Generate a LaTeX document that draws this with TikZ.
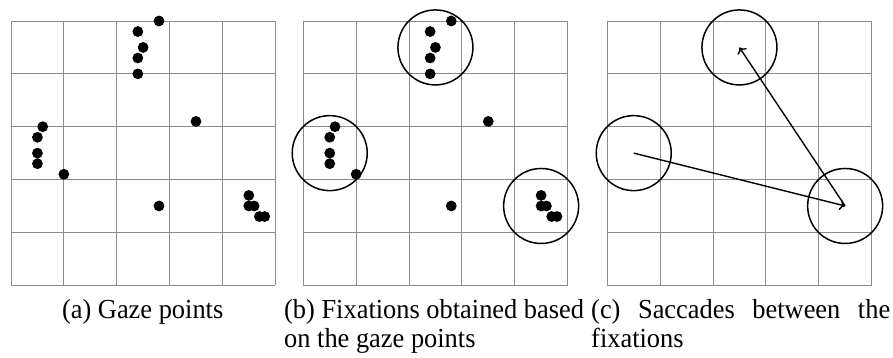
\documentclass[tikz,border=0pt]{standalone}
\usepackage{fontspec}
\setmainfont{Liberation Serif}[FakeStretch=0.96]
\usetikzlibrary{arrows.meta}
\begin{document}
\begin{tikzpicture}[x=1pt,y=-1pt,
  gridline/.style={draw=black!45, line width=0.9pt},
  gazedot/.style={circle, fill=black, inner sep=0pt, minimum size=10.8pt},
  fixring/.style={circle, draw=black, line width=1.5pt, minimum size=75pt, inner sep=0pt},
  saccade/.style={line width=1.4pt, -{To[length=5.5pt,width=11pt]}},
  captext/.style={font=\fontsize{27.5}{30}\selectfont, inner sep=0pt}]
\useasboundingbox (0,0) rectangle (893,358);
\foreach \px/\nm in {11/a, 303.3/b, 607.3/c} {
  \begin{scope}[shift={(\px,21)}, x=52.85pt, y=-52.85pt]
    \foreach \k in {0,...,5} {
      \draw[gridline] (\k,0) -- (\k,5);
      \draw[gridline] (0,\k) -- (5,\k);
    }
  \end{scope}
}
\foreach \px/\nm in {11/a, 303.3/b} {
  \begin{scope}[shift={(\px,21)}, x=52.85pt, y=-52.85pt]
    \foreach \u/\v [count=\i] in {2.8/0,2.4/0.2,2.5/0.5,2.4/0.7,2.4/1.0,3.5/1.9,0.6/2.0,0.5/2.2,0.5/2.5,0.5/2.7,1.0/2.9,2.8/3.5,4.5/3.3,4.5/3.5,4.6/3.5,4.7/3.7,4.8/3.7}
      \node[gazedot] (\nm dot\i) at (\u,\v) {};
  \end{scope}
}
\foreach \px/\nm in {303.3/b, 607.3/c} {
  \begin{scope}[shift={(\px,21)}, x=52.85pt, y=-52.85pt]
    \node[fixring] (\nm ring1) at (2.5,0.5) {};
    \node[fixring] (\nm ring2) at (0.5,2.5) {};
    \node[fixring] (\nm ring3) at (4.5,3.5) {};
  \end{scope}
}
\draw[saccade] (cring2.center) -- (cring3.center);
\draw[saccade] (cring3.center) -- (cring1.center);
\node[captext, anchor=base] (capa) at (142.7,318) {(a) Gaze points};
\node[captext, anchor=base west] (capb1) at (284,318) {(b) Fixations obtained based};
\node[captext, anchor=base west] (capb2) at (284,347) {on the gaze points};
\node[captext, anchor=base west] (capc1) at (591,318) {\hbox to 299pt{(c)\hfill Saccades\hfill between\hfill the}};
\node[captext, anchor=base west] (capc2) at (591,347) {fixations};
\end{tikzpicture}
\end{document}
